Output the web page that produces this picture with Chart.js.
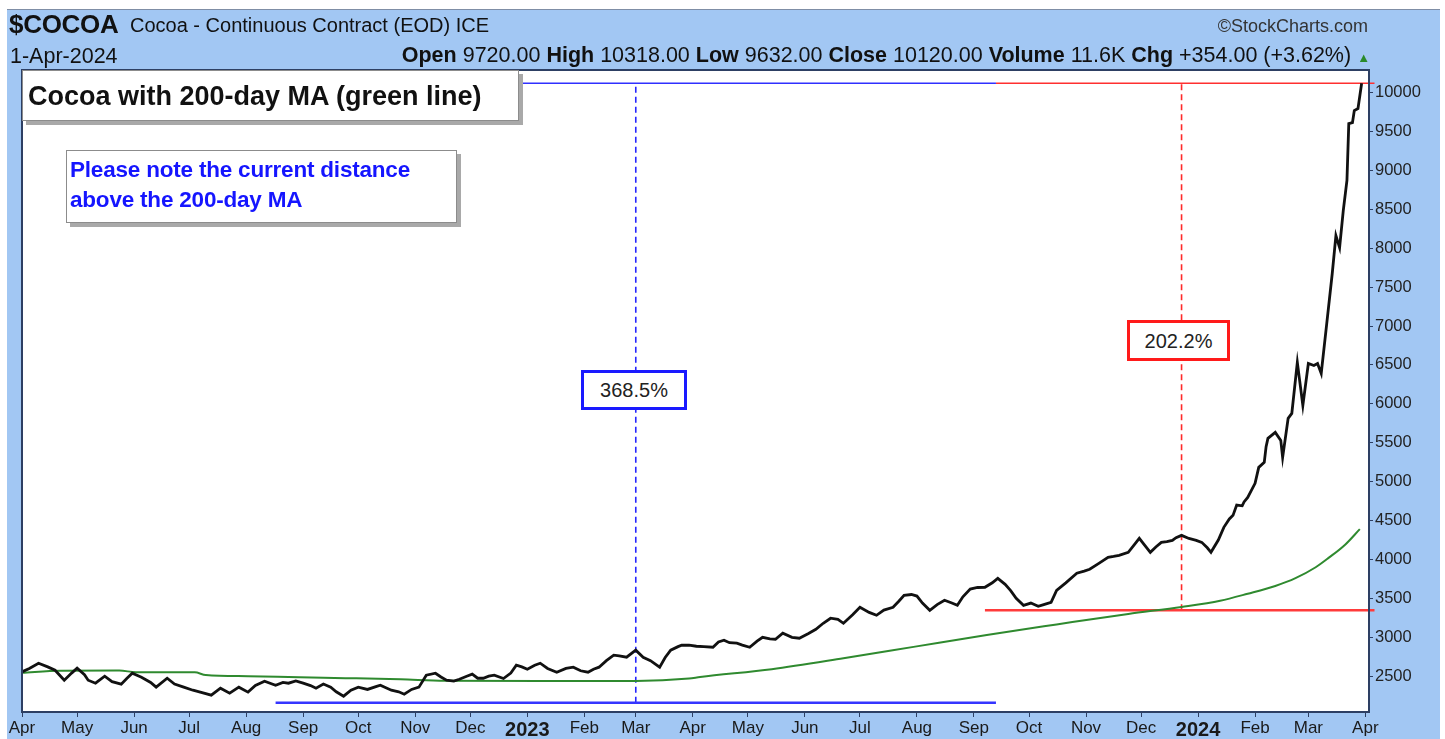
<!DOCTYPE html>
<html><head><meta charset="utf-8">
<script src="https://cdn.jsdelivr.net/npm/chart.js@4.4.1/dist/chart.umd.min.js"></script>
<style>
html,body{margin:0;padding:0;background:#fff;width:1445px;height:739px;overflow:hidden;font-family:"Liberation Sans",Arial,sans-serif;}
#wrap{position:relative;width:1445px;height:739px;}
#panel{position:absolute;left:7px;top:9px;width:1433px;height:730px;background:#a2c7f3;border-top:1px solid #7f8ea6;}
#c{position:absolute;left:0;top:0;}
.t{position:absolute;white-space:nowrap;color:#111;}
.box{position:absolute;background:#fff;box-sizing:border-box;}
</style></head>
<body><div id="wrap">
<div id="panel"></div>
<canvas id="c" width="1445" height="739"></canvas>
<div class="t" style="left:9px;top:10px;font-size:26px;line-height:28px;font-weight:bold;letter-spacing:-0.3px;">$COCOA</div>
<div class="t" style="left:130px;top:14px;font-size:20px;line-height:22px;">Cocoa - Continuous Contract (EOD) ICE</div>
<div class="t" style="right:77px;top:16px;font-size:18px;line-height:20px;color:#333;">©StockCharts.com</div>
<div class="t" style="left:10px;top:45px;font-size:21.5px;line-height:22px;">1-Apr-2024</div>
<div class="t" style="right:75px;top:44px;font-size:21.5px;line-height:22px;">
<b>Open</b> 9720.00 <b>High</b> 10318.00 <b>Low</b> 9632.00 <b>Close</b> 10120.00 <b>Volume</b> 11.6K <b>Chg</b> +354.00 (+3.62%) <span style="color:#2a8a2a;font-size:13px;">▲</span></div>

<div class="box" style="left:22px;top:70px;width:497px;height:51px;border:1px solid #8c8c8c;box-shadow:4px 4px 0 #a9a9a9;">
<div class="t" style="left:5px;top:10px;font-size:27px;line-height:30px;font-weight:bold;">Cocoa with 200-day MA (green line)</div></div>

<div class="box" style="left:66px;top:150px;width:391px;height:73px;border:1px solid #8c8c8c;box-shadow:4px 4px 0 #a9a9a9;">
<div class="t" style="left:3px;top:4px;font-size:22.5px;line-height:30px;font-weight:bold;color:#1515ff;letter-spacing:-0.2px;">Please note the current distance<br>above the 200-day MA</div></div>

<div class="box" style="left:581px;top:370px;width:106px;height:40px;border:3px solid #1a1aff;">
<div class="t" style="left:0;width:100px;text-align:center;top:7px;font-size:20px;line-height:21px;color:#222;">368.5%</div></div>
<div class="box" style="left:1127px;top:320px;width:103px;height:41px;border:3px solid #ff1a1a;">
<div class="t" style="left:0;width:97px;text-align:center;top:8px;font-size:20px;line-height:21px;color:#222;">202.2%</div></div>
</div>
<script>
// ---- data (x = days since 1-Apr-2022) ----
const priceDays = [0,4,9,14,18,23,27,30,34,36,40,45,49,54,57,60,65,70,73,79,83,88,93,98,103,108,113,118,123,127,132,138,142,145,149,153,157,160,164,168,171,175,179,183,188,193,195,201,205,208,212,216,220,225,228,231,235,238,242,245,248,251,254,257,262,266,269,272,275,279,282,286,291,296,300,304,308,311,314,318,322,325,329,334,338,342,347,350,353,357,359,363,367,371,376,379,382,385,389,392,396,400,403,407,410,414,419,423,428,432,436,440,444,447,452,456,461,465,469,474,477,480,484,487,490,494,498,502,506,509,512,516,520,524,528,531,535,538,541,545,549,553,556,560,563,568,574,578,581,586,591,594,597,602,605,608,611,614,617,620,623,626,628,631,635,639,642,645,647,651,654,657,659,661,664,665,667,669,671,673,676,677,678,682,685,686,689,691,694,697,700,703,705,707,710,713,715,717,719,721,722,724,725,727,729];
const priceClose = [2555,2600,2667,2620,2577,2449,2540,2603,2520,2449,2410,2500,2430,2397,2470,2538,2487,2420,2359,2474,2400,2359,2320,2290,2256,2346,2282,2359,2295,2380,2436,2384,2420,2410,2440,2410,2380,2346,2400,2359,2300,2243,2320,2359,2330,2370,2384,2320,2300,2269,2330,2359,2513,2538,2490,2449,2436,2461,2500,2526,2474,2474,2500,2513,2470,2540,2641,2620,2590,2640,2667,2600,2551,2600,2616,2570,2551,2590,2616,2700,2770,2760,2744,2834,2744,2700,2616,2740,2834,2880,2898,2900,2885,2880,2872,2940,2962,2930,2924,2900,2872,2950,3000,2980,2975,3052,3000,2988,3050,3103,3180,3245,3230,3180,3290,3386,3320,3283,3350,3386,3460,3540,3550,3530,3440,3347,3420,3476,3440,3411,3520,3620,3640,3643,3700,3758,3680,3600,3500,3411,3440,3398,3420,3450,3604,3700,3823,3850,3874,3950,4028,4040,4054,4092,4180,4272,4180,4092,4160,4220,4230,4246,4280,4310,4270,4246,4220,4150,4092,4250,4413,4520,4567,4700,4690,4740,4798,4888,4978,5184,5248,5450,5556,5633,5530,5312,5813,5877,6532,5980,6519,6493,6519,6390,7032,7675,8162,8008,8483,8870,9601,9614,9768,9794,10120];
const maDays = [0,21,53,62,94,100,123,151,176,206,230,282,334,363,369,408,447,486,525,563,602,631,652,667,682,693,704,711,720,728];
const maValues = [2545,2570,2572,2552,2550,2515,2500,2485,2475,2460,2440,2438,2438,2470,2490,2590,2730,2880,3030,3165,3300,3390,3470,3560,3660,3760,3900,4020,4190,4390];
const yTickValues = [2500,3000,3500,4000,4500,5000,5500,6000,6500,7000,7500,8000,8500,9000,9500,10000];
const monthTickDays = [0,30,61,91,122,153,183,214,244,275,306,334,365,395,426,456,487,518,548,579,609,640,671,700,731];
const monthTickLabels = ["Apr","May","Jun","Jul","Aug","Sep","Oct","Nov","Dec","2023","Feb","Mar","Apr","May","Jun","Jul","Aug","Sep","Oct","Nov","Dec","2024","Feb","Mar","Apr"];
const yearLabels = ["2023","2024"];
const lastClose = 10120;      // current close
const periodLow = 2160;       // 2022 low (368.5% below close)
const maMarkLevel = 3349;     // 200-day MA at Dec 2023 mark (202.2%)
const lowMarkDay = 334, maMarkDay = 631;
const lowLineFrom = 138, topSplitDay = 530, redLineFrom = 524, lineEndDay = 736;

const FAM = '"Liberation Sans", Arial, sans-serif';
const AX = '#2d3f63';
const pts = (xs, ys) => xs.map((x, i) => ({x, y: ys[i]}));
const seg = (x1, y1, x2, y2) => [{x: x1, y: y1}, {x: x2, y: y2}];
const overflowClip = {left: 0, top: 0, right: 8, bottom: 0};

const framePlugin = {
  id: 'frame',
  beforeDraw(chart) {
    const {ctx, chartArea: a} = chart;
    ctx.save(); ctx.fillStyle = '#fff';
    ctx.fillRect(a.left, a.top, a.right - a.left, a.bottom - a.top);
    ctx.restore();
  },
  afterDraw(chart) {
    const {ctx, chartArea: a} = chart;
    ctx.save(); ctx.strokeStyle = AX; ctx.lineWidth = 2;
    ctx.strokeRect(a.left, a.top, a.right - a.left, a.bottom - a.top);
    ctx.restore();
  }
};

new Chart(document.getElementById('c'), {
  type: 'line',
  data: {
    datasets: [
      {label: 'Cocoa', data: pts(priceDays, priceClose), borderColor: '#111', borderWidth: 2.8, pointRadius: 0, tension: 0, order: 0},
      {label: '200-day MA', data: pts(maDays, maValues), borderColor: '#2f8a2f', borderWidth: 2, pointRadius: 0, cubicInterpolationMode: 'monotone', order: 1},
      {data: seg(0, lastClose, topSplitDay, lastClose), borderColor: '#3030ff', borderWidth: 1.5, pointRadius: 0, order: 3},
      {data: seg(topSplitDay, lastClose, lineEndDay, lastClose), borderColor: '#ff3030', borderWidth: 1.5, pointRadius: 0, order: 3, clip: overflowClip},
      {data: seg(lowLineFrom, periodLow, topSplitDay, periodLow), borderColor: '#3535ff', borderWidth: 2.5, pointRadius: 0, order: 3},
      {data: seg(redLineFrom, maMarkLevel, lineEndDay, maMarkLevel), borderColor: '#ff3b3b', borderWidth: 2.5, pointRadius: 0, order: 2, clip: overflowClip},
      {data: seg(lowMarkDay, periodLow, lowMarkDay, lastClose), borderColor: '#2525ff', borderWidth: 1.6, borderDash: [6, 4], pointRadius: 0, order: 3},
      {data: seg(maMarkDay, maMarkLevel, maMarkDay, lastClose), borderColor: '#ff2a2a', borderWidth: 1.6, borderDash: [6, 4], pointRadius: 0, order: 3}
    ]
  },
  options: {
    responsive: false, animation: false, events: [],
    layout: {padding: {left: 22, top: 70, right: 0, bottom: 0}},
    plugins: {legend: {display: false}, tooltip: {enabled: false}},
    scales: {
      x: {
        type: 'linear', min: 0, max: 733,
        afterBuildTicks: s => { s.ticks = monthTickDays.map(v => ({value: v})); },
        afterFit: s => { s.height = 27; },
        grid: {drawOnChartArea: false, drawTicks: true, tickLength: 5, color: AX},
        border: {display: true, color: AX, width: 2},
        ticks: {
          autoSkip: false, maxRotation: 0, padding: 1, color: '#1a1a1a',
          callback: (v, i) => monthTickLabels[i],
          font: ctx => yearLabels.includes(monthTickLabels[ctx.index]) ? {family: FAM, size: 20, weight: 'bold'} : {family: FAM, size: 17}
        }
      },
      y: {
        position: 'right', min: 2040, max: 10290,
        afterBuildTicks: s => { s.ticks = yTickValues.map(v => ({value: v})); },
        afterFit: s => { s.width = 76; },
        grid: {drawOnChartArea: false, drawTicks: true, tickLength: 4, color: AX},
        border: {display: true, color: AX, width: 2},
        ticks: {padding: 2, color: '#222', font: {family: FAM, size: 16.5}, callback: v => String(v)}
      }
    }
  },
  plugins: [framePlugin]
});
</script>
</body></html>
